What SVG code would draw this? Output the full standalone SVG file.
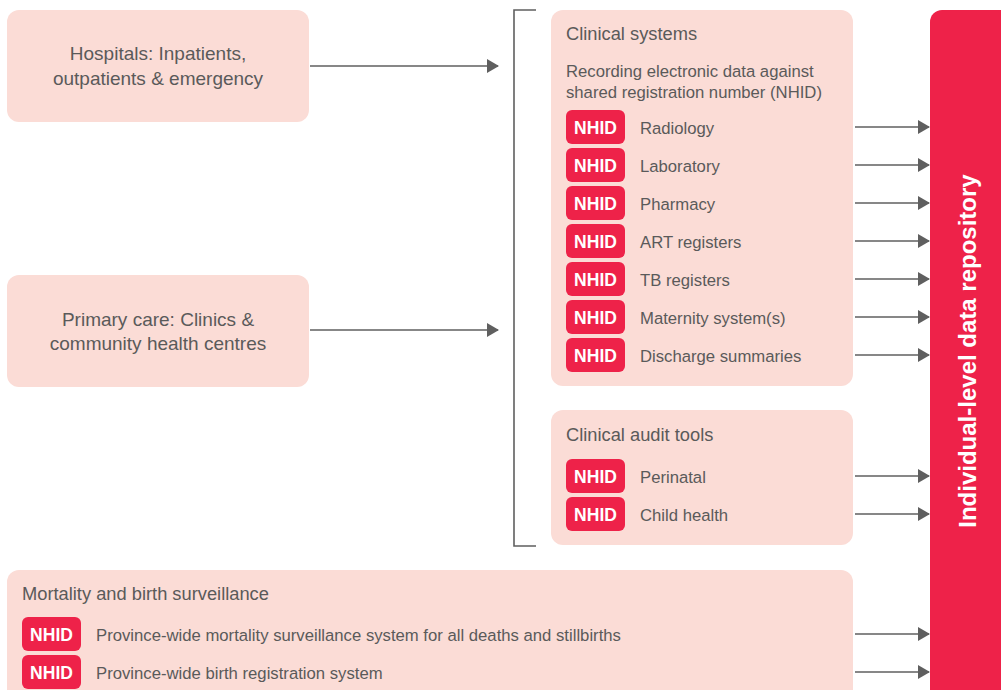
<svg xmlns="http://www.w3.org/2000/svg" width="1001" height="690" viewBox="0 0 1001 690">
<defs>
<style>
.box{fill:#fbdcd6}
.t{font-family:"Liberation Sans",Arial,sans-serif;fill:#5a5a5a}
.h{font-size:18.3px}
.s{font-size:16.7px}
.m{font-size:19px}
.bd{fill:#ee2249}
.bt{font-family:"Liberation Sans",Arial,sans-serif;font-weight:bold;font-size:17.5px;fill:#fff;text-anchor:middle}
.c{stroke:#5f5f5f;stroke-width:1.6;fill:none}
</style>
<marker id="ah" markerWidth="12" markerHeight="14" refX="11" refY="7" orient="auto" markerUnits="userSpaceOnUse">
<path d="M0,0 L12,7 L0,14 Z" fill="#5f5f5f"/>
</marker>
</defs>
<rect width="1001" height="690" fill="#fff"/>
<g id="hospitals">
<rect class="box" x="7" y="10" width="302" height="112" rx="12"/>
<text class="t m" x="158" y="60" text-anchor="middle">Hospitals: Inpatients,</text>
<text class="t m" x="158" y="85" text-anchor="middle">outpatients &amp; emergency</text>
</g>
<g id="primary">
<rect class="box" x="7" y="275" width="302" height="112" rx="12"/>
<text class="t m" x="158" y="326" text-anchor="middle">Primary care: Clinics &amp;</text>
<text class="t m" x="158" y="350" text-anchor="middle">community health centres</text>
</g>
<g id="clinical-systems">
<rect class="box" x="551" y="10" width="302" height="376" rx="12"/>
<text class="t h" x="566" y="40">Clinical systems</text>
<text class="t s" x="566" y="77">Recording electronic data against</text>
<text class="t s" x="566" y="98">shared registration number (NHID)</text>
<rect class="bd" x="566" y="110" width="59" height="34" rx="6"/><text class="bt" x="595.5" y="133.5">NHID</text><text class="t s" x="640" y="133.5">Radiology</text>
<rect class="bd" x="566" y="148" width="59" height="34" rx="6"/><text class="bt" x="595.5" y="171.5">NHID</text><text class="t s" x="640" y="171.5">Laboratory</text>
<rect class="bd" x="566" y="186" width="59" height="34" rx="6"/><text class="bt" x="595.5" y="209.5">NHID</text><text class="t s" x="640" y="209.5">Pharmacy</text>
<rect class="bd" x="566" y="224" width="59" height="34" rx="6"/><text class="bt" x="595.5" y="247.5">NHID</text><text class="t s" x="640" y="247.5">ART registers</text>
<rect class="bd" x="566" y="262" width="59" height="34" rx="6"/><text class="bt" x="595.5" y="285.5">NHID</text><text class="t s" x="640" y="285.5">TB registers</text>
<rect class="bd" x="566" y="300" width="59" height="34" rx="6"/><text class="bt" x="595.5" y="323.5">NHID</text><text class="t s" x="640" y="323.5">Maternity system(s)</text>
<rect class="bd" x="566" y="338" width="59" height="34" rx="6"/><text class="bt" x="595.5" y="361.5">NHID</text><text class="t s" x="640" y="361.5">Discharge summaries</text>
</g>
<g id="clinical-audit">
<rect class="box" x="551" y="410" width="302" height="135" rx="12"/>
<text class="t h" x="566" y="441">Clinical audit tools</text>
<rect class="bd" x="566" y="459" width="59" height="34" rx="6"/><text class="bt" x="595.5" y="482.5">NHID</text><text class="t s" x="640" y="482.5">Perinatal</text>
<rect class="bd" x="566" y="497" width="59" height="34" rx="6"/><text class="bt" x="595.5" y="520.5">NHID</text><text class="t s" x="640" y="520.5">Child health</text>
</g>
<g id="mortality">
<rect class="box" x="7" y="570" width="846" height="135" rx="12"/>
<text class="t h" x="22" y="600">Mortality and birth surveillance</text>
<rect class="bd" x="22" y="617" width="59" height="34" rx="6"/><text class="bt" x="51.5" y="640.5">NHID</text><text class="t s" x="96" y="640.5">Province-wide mortality surveillance system for all deaths and stillbirths</text>
<rect class="bd" x="22" y="655" width="59" height="34" rx="6"/><text class="bt" x="51.5" y="678.5">NHID</text><text class="t s" x="96" y="678.5">Province-wide birth registration system</text>
</g>
<g id="repository">
<rect x="930" y="10" width="90" height="700" rx="12" fill="#ee2249"/>
<text transform="translate(976,351) rotate(-90)" text-anchor="middle" font-family="Liberation Sans,Arial,sans-serif" font-weight="bold" font-size="24" fill="#fff">Individual-level data repository</text>
</g>
<g id="connectors">
<path class="c" d="M536,10 H514 V546 H536"/>
<line class="c" x1="310" y1="66" x2="498" y2="66" marker-end="url(#ah)"/>
<line class="c" x1="310" y1="330" x2="498" y2="330" marker-end="url(#ah)"/>
<line class="c" x1="855" y1="127" x2="929" y2="127" marker-end="url(#ah)"/>
<line class="c" x1="855" y1="165" x2="929" y2="165" marker-end="url(#ah)"/>
<line class="c" x1="855" y1="203" x2="929" y2="203" marker-end="url(#ah)"/>
<line class="c" x1="855" y1="241" x2="929" y2="241" marker-end="url(#ah)"/>
<line class="c" x1="855" y1="279" x2="929" y2="279" marker-end="url(#ah)"/>
<line class="c" x1="855" y1="317" x2="929" y2="317" marker-end="url(#ah)"/>
<line class="c" x1="855" y1="355" x2="929" y2="355" marker-end="url(#ah)"/>
<line class="c" x1="855" y1="476" x2="929" y2="476" marker-end="url(#ah)"/>
<line class="c" x1="855" y1="514" x2="929" y2="514" marker-end="url(#ah)"/>
<line class="c" x1="855" y1="634" x2="929" y2="634" marker-end="url(#ah)"/>
<line class="c" x1="855" y1="672" x2="929" y2="672" marker-end="url(#ah)"/>
</g>
</svg>
